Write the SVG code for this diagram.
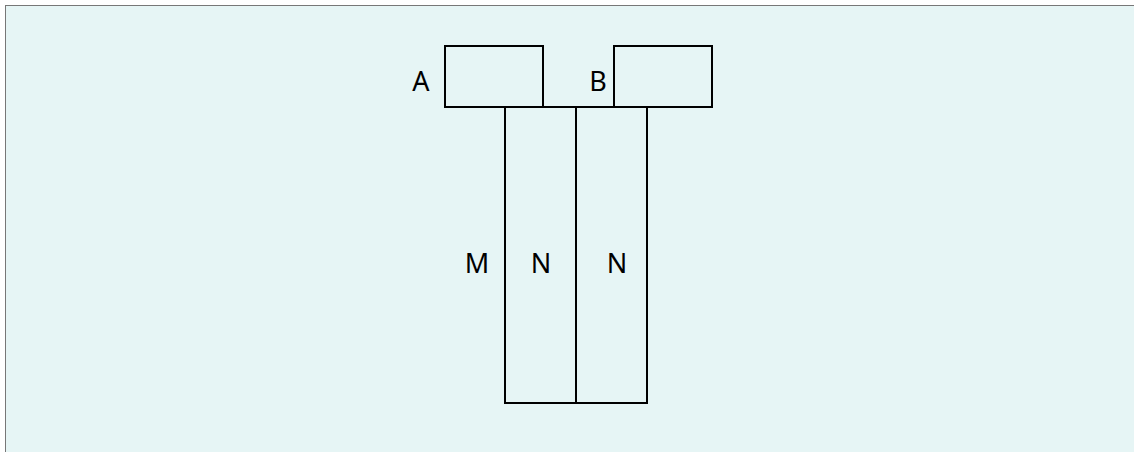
<svg xmlns="http://www.w3.org/2000/svg" width="1134" height="452" viewBox="0 0 1134 452">
<style>
.s{fill:none;stroke:#000;stroke-width:2}
.t{font-family:"Noto Sans","Open Sans",sans-serif;font-size:27px;fill:#000;text-anchor:middle}
</style>
<rect x="5.5" y="5.5" width="1140" height="460" fill="#e6f5f5" stroke="#777" stroke-width="1"/>
<g id="A"><rect class="s" x="445" y="46" width="98" height="61"/><text class="t" x="421" y="91">A</text></g>
<g id="B"><rect class="s" x="614" y="46" width="98" height="61"/><text class="t" x="598" y="91">B</text></g>
<g id="N1"><rect class="s" x="505" y="107" width="71" height="296"/><text class="t" x="541" y="273">N</text></g>
<g id="N2"><rect class="s" x="576" y="107" width="71" height="296"/><text class="t" x="617" y="273">N</text></g>
<g id="M"><text class="t" x="477" y="273">M</text></g>
<g id="connectors"><line class="s" x1="543" y1="107" x2="614" y2="107"/></g>
</svg>
